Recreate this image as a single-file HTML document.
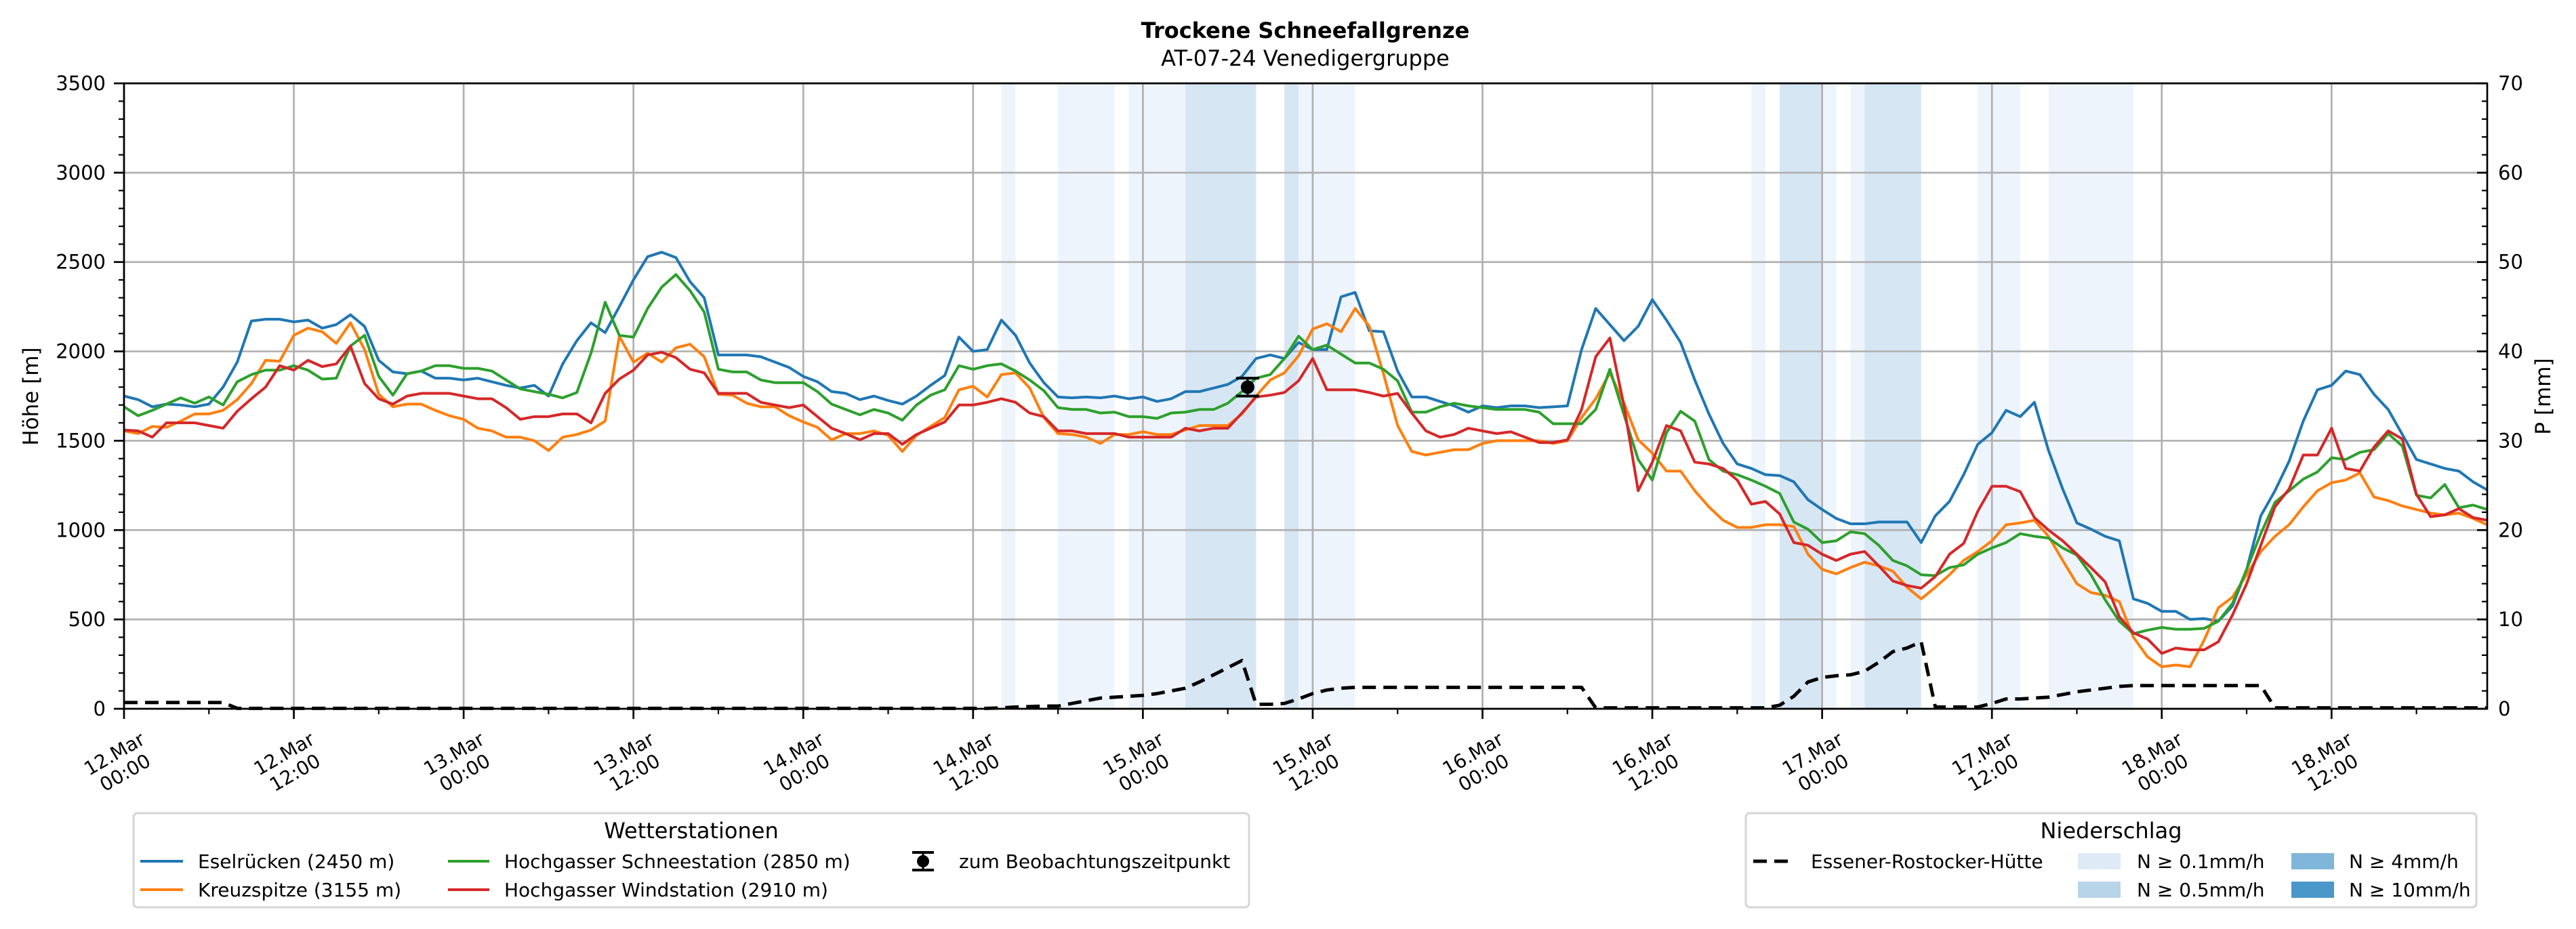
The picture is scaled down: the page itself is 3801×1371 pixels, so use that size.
<!DOCTYPE html>
<html><head><meta charset="utf-8">
<style>
html,body{margin:0;padding:0;background:#fff;}
svg{display:block;font-family:"DejaVu Sans","Liberation Sans",sans-serif;}
</style></head>
<body>
<svg id="chart" width="3801" height="1371" viewBox="0 0 3801 1371" xmlns="http://www.w3.org/2000/svg">
<g id="bands"></g>
<g id="grid"></g>
<g id="series"></g>
<g id="axes"></g>
<text x="1926" y="56" text-anchor="middle" font-size="32" font-weight="bold">Trockene Schneefallgrenze</text>
<text x="1926" y="97" text-anchor="middle" font-size="32">AT-07-24 Venedigergruppe</text>
<text transform="translate(56,585) rotate(-90)" text-anchor="middle" font-size="31">Höhe [m]</text>
<text transform="translate(3763,585) rotate(-90)" text-anchor="middle" font-size="31">P [mm]</text>

<g>
<rect x="197" y="1200" width="1646" height="139" rx="6" fill="#fff" stroke="#d5d5d5" stroke-width="3"/>
<text x="1020" y="1237" text-anchor="middle" font-size="32">Wetterstationen</text>
<g><line x1="207" y1="1271" x2="270" y2="1271" stroke="#1f77b4" stroke-width="4"/><text x="292" y="1281" font-size="28">Eselrücken (2450 m)</text></g>
<g><line x1="207" y1="1313" x2="270" y2="1313" stroke="#ff7f0e" stroke-width="4"/><text x="292" y="1323" font-size="28">Kreuzspitze (3155 m)</text></g>
<g><line x1="661" y1="1271" x2="722" y2="1271" stroke="#2ca02c" stroke-width="4"/><text x="744" y="1281" font-size="28">Hochgasser Schneestation (2850 m)</text></g>
<g><line x1="661" y1="1313" x2="722" y2="1313" stroke="#d62728" stroke-width="4"/><text x="744" y="1323" font-size="28">Hochgasser Windstation (2910 m)</text></g>
<g><line x1="1362" y1="1258" x2="1362" y2="1284" stroke="#000" stroke-width="3"/><line x1="1346" y1="1258" x2="1378" y2="1258" stroke="#000" stroke-width="4"/><line x1="1346" y1="1284" x2="1378" y2="1284" stroke="#000" stroke-width="4"/><circle cx="1362" cy="1271" r="9"/><text x="1415" y="1281" font-size="28">zum Beobachtungszeitpunkt</text></g>
</g>

<g>
<rect x="2576" y="1200" width="1078" height="139" rx="6" fill="#fff" stroke="#d5d5d5" stroke-width="3"/>
<text x="3115" y="1237" text-anchor="middle" font-size="32">Niederschlag</text>
<g><line x1="2587" y1="1271" x2="2645" y2="1271" stroke="#000" stroke-width="5" stroke-dasharray="20,11"/><text x="2672" y="1281" font-size="28">Essener-Rostocker-Hütte</text></g>
<g><rect x="3066" y="1259" width="63" height="24" fill="#deebf7"/><text x="3153" y="1281" font-size="28">N ≥ 0.1mm/h</text></g>
<g><rect x="3066" y="1301" width="63" height="24" fill="#b8d4e9"/><text x="3153" y="1323" font-size="28">N ≥ 0.5mm/h</text></g>
<g><rect x="3381" y="1259" width="63" height="24" fill="#80b6d9"/><text x="3466" y="1281" font-size="28">N ≥ 4mm/h</text></g>
<g><rect x="3381" y="1301" width="63" height="24" fill="#4a97c9"/><text x="3466" y="1323" font-size="28">N ≥ 10mm/h</text></g>
</g>
</svg>
<script>
const eselrueckenValues=[1750,1730,1690,1705,1700,1690,1705,1800,1940,2170,2180,2180,2165,2175,2130,2150,2205,2140,1950,1885,1875,1890,1850,1850,1840,1850,1830,1810,1795,1810,1750,1930,2060,2160,2105,2250,2400,2530,2555,2525,2390,2300,1980,1980,1980,1970,1940,1910,1860,1830,1775,1765,1730,1750,1725,1705,1750,1810,1865,2080,2000,2010,2175,2090,1935,1825,1745,1740,1745,1740,1750,1735,1745,1720,1735,1775,1775,1795,1815,1860,1960,1980,1960,2050,2010,2010,2305,2330,2115,2110,1890,1745,1745,1720,1695,1660,1695,1685,1695,1695,1685,1690,1695,2010,2240,2150,2060,2140,2290,2175,2050,1840,1650,1485,1370,1345,1310,1305,1270,1170,1115,1065,1035,1035,1045,1045,1045,930,1080,1160,1310,1480,1545,1670,1635,1715,1445,1230,1040,1005,965,940,615,590,545,545,500,505,490,575,780,1080,1220,1385,1610,1785,1810,1890,1870,1760,1675,1535,1395,1370,1345,1330,1270,1225];
const kreuzspitzeValues=[1555,1540,1580,1575,1610,1650,1650,1670,1730,1820,1950,1945,2090,2130,2110,2045,2160,2010,1760,1690,1705,1705,1670,1640,1620,1570,1555,1520,1520,1500,1445,1520,1535,1560,1610,2085,1940,1990,1940,2020,2040,1970,1760,1755,1710,1690,1690,1640,1605,1575,1505,1540,1540,1555,1530,1440,1530,1580,1630,1785,1805,1745,1870,1880,1795,1630,1540,1535,1520,1485,1535,1535,1550,1535,1535,1560,1585,1585,1585,1650,1750,1840,1880,1975,2125,2155,2110,2240,2140,1875,1585,1440,1420,1435,1450,1450,1485,1500,1500,1500,1500,1485,1500,1630,1735,1880,1710,1505,1430,1330,1330,1220,1130,1055,1015,1015,1030,1030,1020,865,780,755,790,820,800,770,680,615,680,750,830,880,940,1030,1040,1055,965,830,700,650,635,600,400,290,235,245,235,385,565,625,750,880,965,1030,1130,1220,1265,1280,1320,1185,1165,1135,1115,1095,1085,1095,1065,1030];
const schneestationValues=[1690,1640,1670,1705,1740,1710,1745,1700,1830,1870,1895,1895,1920,1895,1845,1850,2030,2090,1860,1755,1875,1890,1920,1920,1905,1905,1890,1840,1790,1775,1760,1740,1770,1990,2275,2090,2080,2240,2360,2430,2340,2220,1900,1885,1885,1840,1825,1825,1825,1775,1705,1675,1645,1675,1655,1615,1700,1755,1785,1920,1900,1920,1930,1890,1840,1780,1685,1675,1675,1655,1660,1635,1635,1625,1655,1660,1675,1675,1710,1775,1850,1870,1960,2085,2010,2035,1985,1935,1935,1900,1835,1660,1660,1690,1710,1695,1685,1675,1675,1675,1660,1595,1595,1595,1675,1900,1645,1395,1280,1545,1665,1610,1395,1330,1310,1280,1245,1205,1045,1005,930,940,990,980,915,830,800,750,745,790,805,865,900,930,980,965,955,900,860,750,610,490,420,440,455,445,445,450,490,590,780,980,1155,1220,1285,1325,1405,1395,1435,1450,1540,1470,1195,1180,1255,1125,1140,1115];
const windstationValues=[1560,1555,1520,1600,1600,1600,1585,1570,1665,1735,1800,1920,1895,1950,1915,1930,2030,1820,1735,1705,1750,1765,1765,1765,1750,1735,1735,1685,1620,1635,1635,1650,1650,1600,1765,1845,1895,1980,1995,1965,1900,1880,1765,1765,1765,1715,1700,1685,1700,1635,1570,1540,1505,1540,1540,1480,1535,1570,1605,1700,1700,1715,1735,1715,1655,1635,1555,1555,1540,1540,1540,1520,1520,1520,1520,1570,1555,1570,1570,1655,1745,1755,1770,1835,1960,1785,1785,1785,1770,1750,1765,1655,1555,1520,1535,1570,1555,1540,1550,1520,1490,1490,1505,1675,1970,2075,1695,1220,1380,1585,1555,1380,1370,1345,1280,1145,1160,1090,930,915,865,830,865,880,800,715,690,675,740,865,925,1105,1245,1245,1215,1070,1000,940,865,790,710,515,425,390,310,340,330,330,375,525,700,915,1130,1230,1420,1420,1570,1345,1330,1465,1555,1510,1200,1075,1085,1120,1070,1055];
const huetteValues=[0.7,0.7,0.7,0.7,0.7,0.7,0.7,0.7,0.05,0.05,0.05,0.05,0.05,0.05,0.05,0.05,0.05,0.05,0.05,0.05,0.05,0.05,0.05,0.05,0.05,0.05,0.05,0.05,0.05,0.05,0.05,0.05,0.05,0.05,0.05,0.05,0.05,0.05,0.05,0.05,0.05,0.05,0.05,0.05,0.05,0.05,0.05,0.05,0.05,0.05,0.05,0.05,0.05,0.05,0.05,0.05,0.05,0.05,0.05,0.05,0.05,0.05,0.1,0.2,0.25,0.3,0.3,0.6,0.9,1.2,1.3,1.4,1.5,1.7,2.0,2.3,3.0,3.8,4.6,5.4,0.5,0.5,0.6,1.1,1.7,2.1,2.3,2.4,2.4,2.4,2.4,2.4,2.4,2.4,2.4,2.4,2.4,2.4,2.4,2.4,2.4,2.4,2.4,2.4,0.1,0.1,0.1,0.1,0.1,0.1,0.1,0.1,0.1,0.1,0.1,0.1,0.1,0.4,1.4,3.0,3.5,3.7,3.8,4.2,5.2,6.4,6.8,7.5,0.2,0.2,0.2,0.2,0.6,1.1,1.1,1.2,1.3,1.6,1.9,2.1,2.3,2.5,2.6,2.6,2.6,2.6,2.6,2.6,2.6,2.6,2.6,2.6,0.1,0.1,0.1,0.1,0.1,0.1,0.1,0.1,0.1,0.1,0.1,0.1,0.1,0.1,0.1,0.1];
const bandStarts=[62,66,71,75,82,83,115,117,120,122,123,131,136];
const bandEnds=[63,70,75,80,83,87,116,120,121,123,127,134,142];
const bandLevels=[1,1,1,2,2,1,1,2,1,1,2,1,1];
const yTicks=[0,500,1000,1500,2000,2500,3000,3500];
const y2Ticks=[0,10,20,30,40,50,60,70];
const xTickLabels=[["12.Mar","00:00"],["12.Mar","12:00"],["13.Mar","00:00"],["13.Mar","12:00"],["14.Mar","00:00"],["14.Mar","12:00"],["15.Mar","00:00"],["15.Mar","12:00"],["16.Mar","00:00"],["16.Mar","12:00"],["17.Mar","00:00"],["17.Mar","12:00"],["18.Mar","00:00"],["18.Mar","12:00"]];
const obsHour=[79.4];
const obsValue=[1800];
const obsErr=[50];

const NS="http://www.w3.org/2000/svg";
const L=183,R=3670,T=123,B=1046,HMAX=167;
function xs(h){return L+(R-L)*h/HMAX;}
function ys(v){return B-(B-T)*v/3500;}
function ys2(v){return B-(B-T)*v/70;}
function mk(tag,attrs,parent){const e=document.createElementNS(NS,tag);for(const k in attrs)e.setAttribute(k,attrs[k]);parent.appendChild(e);return e;}
const bandsG=document.getElementById('bands'),gridG=document.getElementById('grid'),serG=document.getElementById('series'),axG=document.getElementById('axes');
const bandColors={1:"#eef4fb",2:"#d7e6f3",3:"#b6d3ea",4:"#8fbcdf"};
for(let i=0;i<bandStarts.length;i++){
  const r=mk('rect',{x:xs(bandStarts[i]),y:T,width:xs(bandEnds[i])-xs(bandStarts[i]),height:B-T,fill:bandColors[bandLevels[i]]},bandsG);
  
  
}
yTicks.forEach(v=>{
  const y=ys(v);
  mk('line',{x1:L,x2:R,y1:y,y2:y,stroke:"#b0b0b0","stroke-width":2.7},gridG);
  mk('line',{x1:L-15,x2:L,y1:y,y2:y,stroke:"#000","stroke-width":2.7},axG);
  const t=mk('text',{x:L-27,y:y+10,"text-anchor":"end","font-size":29},axG);t.textContent=v;
  
  
});
for(let v=0;v<=3500;v+=100){if(v%500)mk('line',{x1:L-8,x2:L,y1:ys(v),y2:ys(v),stroke:"#000","stroke-width":2.2},axG);}
y2Ticks.forEach(v=>{
  const y=ys2(v);
  mk('line',{x1:R-15,x2:R,y1:y,y2:y,stroke:"#000","stroke-width":2.7},axG);
  const t=mk('text',{x:3686,y:y+10,"font-size":29},axG);t.textContent=v;
  
  
});
for(let v=0;v<=70;v+=2){if(v%10)mk('line',{x1:R-8,x2:R,y1:ys2(v),y2:ys2(v),stroke:"#000","stroke-width":2.2},axG);}
xTickLabels.forEach((lab,i)=>{
  const x=xs(i*12);
  mk('line',{x1:x,x2:x,y1:T,y2:B,stroke:"#b0b0b0","stroke-width":2.7},gridG);
  mk('line',{x1:x,x2:x,y1:B,y2:B+15,stroke:"#000","stroke-width":2.7},axG);
  const t=mk('text',{transform:`translate(${x-6},1127) rotate(-30)`,"text-anchor":"middle","font-size":28},axG);
  
  
  const a=mk('tspan',{x:0,y:-7},t);a.textContent=lab[0];
  const b=mk('tspan',{x:0,y:25},t);b.textContent=lab[1];
});
for(let h=6;h<=HMAX;h+=12)mk('line',{x1:xs(h),x2:xs(h),y1:B,y2:B+8,stroke:"#000","stroke-width":2.2},axG);
function line(vals,color,name,yf,extra){
  const p=mk('polyline',Object.assign({points:vals.map((v,i)=>xs(i)+","+yf(v)).join(" "),fill:"none",stroke:color,"stroke-width":4,"stroke-linejoin":"round"},extra||{}),serG);
  
  
}
line(eselrueckenValues,"#1f77b4","eselruecken-line",ys);
line(kreuzspitzeValues,"#ff7f0e","kreuzspitze-line",ys);
line(schneestationValues,"#2ca02c","schneestation-line",ys);
line(windstationValues,"#d62728","windstation-line",ys);
line(huetteValues,"#000","huette-precip-line",ys2,{"stroke-dasharray":"20,11","stroke-width":5});
obsHour.forEach((h,i)=>{
  const x=xs(h),y=ys(obsValue[i]),y1=ys(obsValue[i]+obsErr[i]),y2=ys(obsValue[i]-obsErr[i]);
  const g=mk('g',{},serG);
  
  
  mk('line',{x1:x,x2:x,y1:y1,y2:y2,stroke:"#000","stroke-width":3},g);
  mk('line',{x1:x-17,x2:x+17,y1:y1,y2:y1,stroke:"#000","stroke-width":4},g);
  mk('line',{x1:x-17,x2:x+17,y1:y2,y2:y2,stroke:"#000","stroke-width":4},g);
  mk('circle',{cx:x,cy:y,r:10,fill:"#000"},g);
});
mk('rect',{x:L,y:T,width:R-L,height:B-T,fill:"none",stroke:"#000","stroke-width":2.7},axG);
</script>
</body></html>
